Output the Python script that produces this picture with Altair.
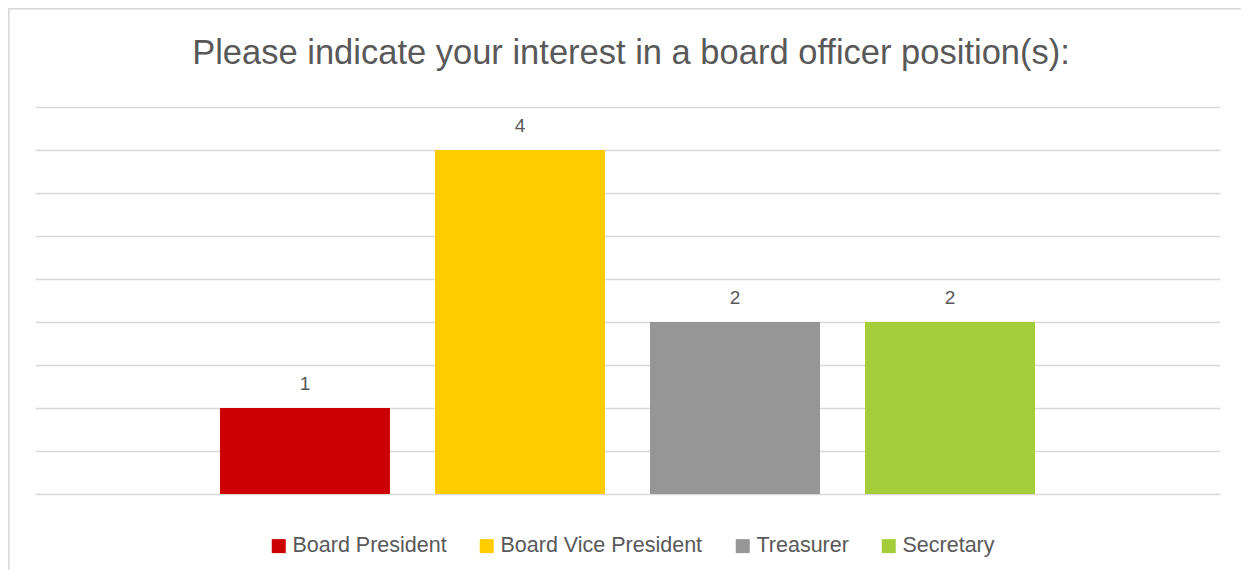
import altair as alt
import pandas as pd

series = ["Board President", "Board Vice President", "Treasurer", "Secretary"]
counts = [1, 4, 2, 2]
colors = ["#CC0000", "#FFCC00", "#969696", "#A5CD39"]
grid_values = [0, 0.5, 1, 1.5, 2, 2.5, 3, 3.5, 4, 4.5]
title_text = "Please indicate your interest in a board officer position(s):"

df = pd.DataFrame({"series": series, "count": counts})
title_df = pd.DataFrame({"title": [title_text]})

FONT = "Liberation Sans"
TXT = "#595959"
PLOT_W = 1185
PLOT_H = 387

x_enc = alt.X(
    "series:N",
    sort=series,
    scale=alt.Scale(domain=series, paddingInner=0.209, paddingOuter=0.86),
    axis=None,
)
y_scale = alt.Scale(domain=[0, 4.5], nice=False, zero=True)

bars = alt.Chart(df).mark_bar(size=170).encode(
    x=x_enc,
    y=alt.Y(
        "count:Q",
        scale=y_scale,
        axis=alt.Axis(
            values=grid_values, grid=True, labels=False, ticks=False,
            domain=False, title=None, gridColor="#D9D9D9", gridWidth=1.3,
        ),
    ),
    color=alt.Color(
        "series:N",
        sort=series,
        scale=alt.Scale(domain=series, range=colors),
        legend=alt.Legend(
            title=None, orient="none", direction="horizontal",
            legendX=233, legendY=428,
            symbolType="square", symbolSize=196, symbolStrokeWidth=0,
            symbolOpacity=1,
            labelFont=FONT, labelFontSize=21.5, labelColor=TXT,
            labelOffset=3, labelLimit=400, columnPadding=29, padding=0,
        ),
    ),
)

labels = alt.Chart(df).mark_text(
    font=FONT, fontSize=19, color=TXT, baseline="alphabetic", dy=-18
).encode(
    x=x_enc,
    y=alt.Y("count:Q", scale=y_scale),
    text=alt.Text("count:Q"),
)

title = alt.Chart(title_df).mark_text(
    font=FONT, fontSize=34.5, color=TXT, baseline="alphabetic", align="center"
).encode(
    x=alt.value(596), y=alt.value(-43), text="title:N"
)

border = alt.Chart(df).mark_rule(color="#D9D9D9", strokeWidth=1.5).encode(
    x=alt.value(-27), x2=alt.value(PLOT_W + 21), y=alt.value(-98.5)
)
border_left = alt.Chart(df).mark_rule(color="#D9D9D9", strokeWidth=1.5).encode(
    x=alt.value(-26.5), y=alt.value(-99), y2=alt.value(PLOT_H + 76)
)

chart = alt.layer(bars, labels, title, border, border_left).properties(
    width=PLOT_W,
    height=PLOT_H,
    background="white",
    padding={"left": 27, "top": 99, "right": 21, "bottom": 76},
    autosize=alt.AutoSizeParams(type="none"),
).configure_view(strokeWidth=0, stroke=None)

chart.save("out.html", embed_options={"renderer": "svg", "actions": False})
